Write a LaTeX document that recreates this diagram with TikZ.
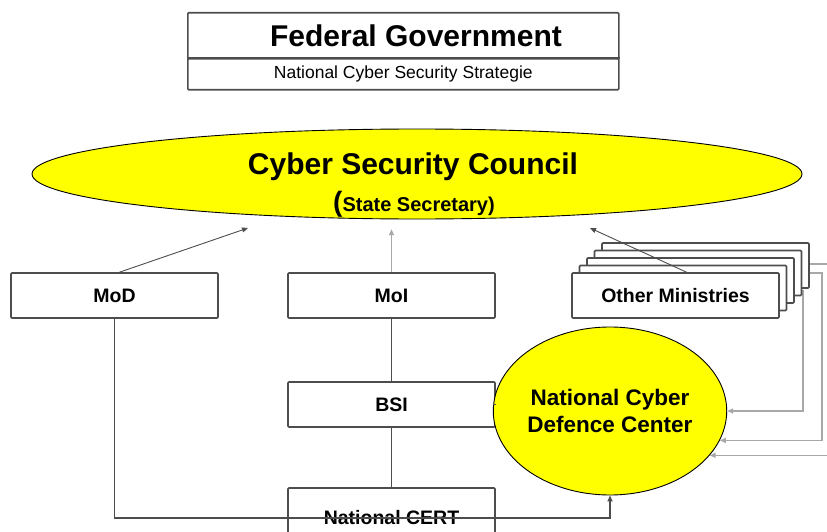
\documentclass[tikz,border=0pt]{standalone}
\usepackage{fontspec}
\setmainfont{Liberation Sans}
\usetikzlibrary{arrows.meta}
\usetikzlibrary{shapes.geometric}
\definecolor{edge}{HTML}{4D4D4D}
\definecolor{faint}{HTML}{A8A8A8}
\definecolor{sun}{HTML}{FFFF00}
\tikzset{
  unit/.style={draw=edge,line width=1.6pt,rounded corners=1pt,fill=white,
    minimum width=207pt,minimum height=45pt,inner sep=0,
    font=\fontsize{19.5}{23}\selectfont\bfseries},
  link/.style={draw=edge,line width=1.5pt},
  feed/.style={draw=faint,line width=1.4pt},
  tip/.style={-{Triangle[length=6pt,width=5pt]}},
  blob/.style={ellipse,draw=black,line width=0.9pt,fill=sun,inner sep=0}
}

\begin{document}
\begin{tikzpicture}[x=1pt,y=-1pt]
    \useasboundingbox (0,0) rectangle (827,532);

    % government on top
    \node[unit,minimum width=431pt,minimum height=46pt,anchor=north west] (fed) at (187,12) {};
    \node[unit,minimum width=431pt,minimum height=31pt,anchor=north west,
      font=\fontsize{17.5}{20}\selectfont] (strat) at (187,58) {National Cyber Security Strategie};
    \draw[link,line width=2.2pt] (strat.north west) -- (strat.north east);
    \node[font=\fontsize{30}{34}\selectfont\bfseries] (fedname) at (416,36) {Federal Government};

    % council
    \node[blob,minimum width=770pt,minimum height=90pt] (csc) at (417,174) {};
    \node[font=\fontsize{30}{34}\selectfont\bfseries] (cscname) at (413,167) {Cyber Security Council};
    \node[font=\bfseries] (cscsub) at (414,204)
      {{\fontsize{28}{30}\selectfont(}{\fontsize{20}{24}\selectfont State Secretary)}};

    % ministries
    \node[unit] (mod) at (114.5,295.5) {MoD};
    \node[unit] (moi) at (391.5,295.5) {MoI};
    \node[unit] (bsi) at (391.5,404.5) {BSI};
    \node[unit,minimum height=60pt] (cert) at (391.5,518) {National CERT};
    \node[blob,minimum width=200pt,minimum height=168pt,align=center,
      font=\fontsize{22.5}{27}\selectfont\bfseries] (ncdc) at (610,411) {National Cyber\\Defence Center};

    \coordinate (rimA) at (827,263);
    \coordinate (rimB) at (827,451);
    \coordinate (floor) at (0,518);

    % feeds from the right go behind the stack
    \draw[feed] (800,264) -- (rimA |- 0,264);
    \draw[feed,tip] (800,273) -- (822,273) |- (ncdc.-15);
    \draw[feed,tip] (803,290) |- (ncdc.east);
    \draw[feed,tip] (ncdc.-24 -| rimB) -- (ncdc.-24);

    \foreach \k in {4,...,1}
      \node[unit] (other\k) at (675.5+7.5*\k,295.5-7.5*\k) {};
    \node[unit] (other) at (675.5,295.5) {Other Ministries};

    % up to the council
    \coordinate (capA) at (248,228);
    \coordinate (capC) at (590,228);
    \draw[link,line width=0.9pt,tip] ([xshift=5pt]mod.north) -- (capA);
    \draw[feed,tip] (moi.north) -- ++(0,-43);
    \draw[link,line width=0.9pt,tip] ([xshift=11pt]other.north) -- (capC);

    \draw[link] (moi.south) -- (bsi.north);
    \draw[link] (bsi.south) -- (cert.north);
    \draw[link] (bsi.east) -- (bsi.east -| ncdc.west);
    \draw[link,tip] (mod.south) |- (ncdc.south |- floor) -- (ncdc.south);
\end{tikzpicture}
\end{document}
